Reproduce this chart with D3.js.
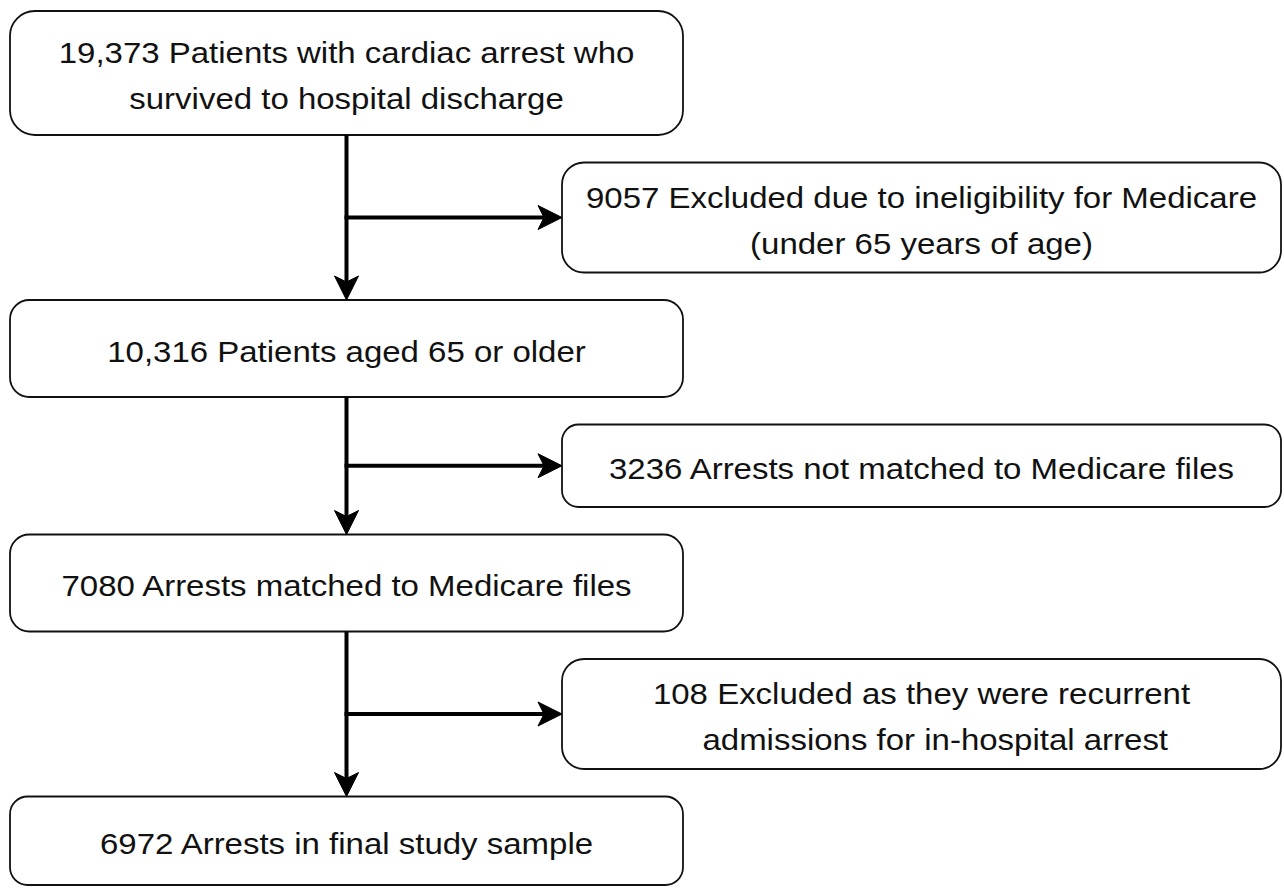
<!DOCTYPE html>
<html>
<head>
<meta charset="utf-8">
<script src="https://cdn.jsdelivr.net/npm/d3@7"></script>
<style>
  body { margin: 0; background: #fff; }
  svg { display: block; }
  text { font-family: "Liberation Sans", Arial, sans-serif; white-space: pre; }
</style>
</head>
<body>
<svg id="chart"></svg>
<script>
// Main flow (left column), top to bottom
var stepLabels = [
    ["19,373 Patients with cardiac arrest who", "survived to hospital discharge"],
    ["10,316 Patients aged 65 or older"],
    ["7080 Arrests matched to Medicare files"],
    ["6972 Arrests in final study sample"]
];

// Exclusions branching off between steps
var exclusionLabels = [
    ["9057 Excluded due to ineligibility for Medicare", "(under 65 years of age)"],
    ["3236 Arrests not matched to Medicare files"],
    ["108 Excluded as they were recurrent", "   admissions for in-hospital arrest"]
];

var width = 1284, height = 888;

var svg = d3.select("#chart")
    .attr("width", width)
    .attr("height", height);

// Layout settings
var mainX = [10, 683], exclX = [562, 1281];
var top0 = 11, gap = 27.5;
var fontSize = 33, lineGap = 46, squash = 0.89;
var mainH = function(n) { return 70 + 27 * n; };
var exclH = function(n) { return 55 + 27.5 * n; };

// Stack boxes one after another: step, exclusion, step, ...
var nodes = [];
var y = top0;
stepLabels.forEach(function(lines, i) {
    var h = Math.min(mainH(lines.length), height - 3 - y);
    nodes.push({kind: "step", lines: lines, x0: mainX[0], x1: mainX[1], y0: y, y1: y + h});
    y += h + gap;
    if (i < exclusionLabels.length) {
        var el = exclusionLabels[i];
        var eh = exclH(el.length);
        nodes.push({kind: "excl", lines: el, x0: exclX[0], x1: exclX[1], y0: y, y1: y + eh});
        y += eh + gap;
    }
});

var steps = nodes.filter(function(d) { return d.kind === "step"; });
var excls = nodes.filter(function(d) { return d.kind === "excl"; });
var spineX = (mainX[0] + mainX[1]) / 2;

// Boxes
svg.selectAll(".box")
    .data(nodes).enter()
    .append("rect")
    .attr("class", "box")
    .attr("x", function(d) { return d.x0; })
    .attr("y", function(d) { return d.y0; })
    .attr("width", function(d) { return d.x1 - d.x0; })
    .attr("height", function(d) { return d.y1 - d.y0; })
    .attr("rx", function(d) { return 0.2 * Math.min(d.x1 - d.x0, d.y1 - d.y0); })
    .attr("fill", "#fff")
    .attr("stroke", "#111")
    .attr("stroke-width", 1.8);

// Labels
nodes.forEach(function(d) {
    var cx = (d.x0 + d.x1) / 2, cy = (d.y0 + d.y1) / 2;
    var n = d.lines.length;
    svg.append("g")
        .selectAll("text")
        .data(d.lines).enter()
        .append("text")
        .attr("text-anchor", "middle")
        .attr("font-size", fontSize)
        .attr("fill", "#111")
        .attr("transform", function(t, i) {
            var by = cy + 13 + (i - (n - 1) / 2) * lineGap;
            return "translate(" + cx + "," + by + ") scale(1," + squash + ")";
        })
        .text(function(t) { return t; });
});

// Connectors
var arrowLen = 24, arrowW = 12, notch = 18;
var arrowPath = "M0,0L" + (-arrowLen) + "," + (-arrowW) + "L" + (-notch) + ",0L" + (-arrowLen) + "," + arrowW + "Z";
var conn = svg.append("g")
    .attr("stroke", "#000")
    .attr("stroke-width", 4);

var arrows = [];
for (var i = 0; i < steps.length - 1; i++) {
    // vertical spine to next step
    conn.append("line")
        .attr("x1", spineX).attr("y1", steps[i].y1)
        .attr("x2", spineX).attr("y2", steps[i + 1].y0 - notch);
    arrows.push({x: spineX, y: steps[i + 1].y0, rot: 90});

    // branch to exclusion
    var e = excls[i];
    var ey = (e.y0 + e.y1) / 2;
    conn.append("line")
        .attr("x1", spineX - 2).attr("y1", ey)
        .attr("x2", e.x0 - notch).attr("y2", ey);
    arrows.push({x: e.x0, y: ey, rot: 0});
}

svg.selectAll(".arrowhead")
    .data(arrows).enter()
    .append("path")
    .attr("class", "arrowhead")
    .attr("d", arrowPath)
    .attr("transform", function(d) { return "translate(" + d.x + "," + d.y + ") rotate(" + d.rot + ")"; })
    .attr("fill", "#000")
    .attr("stroke", "#000")
    .attr("stroke-width", 1)
    .attr("stroke-linejoin", "miter");
</script>
</body>
</html>
